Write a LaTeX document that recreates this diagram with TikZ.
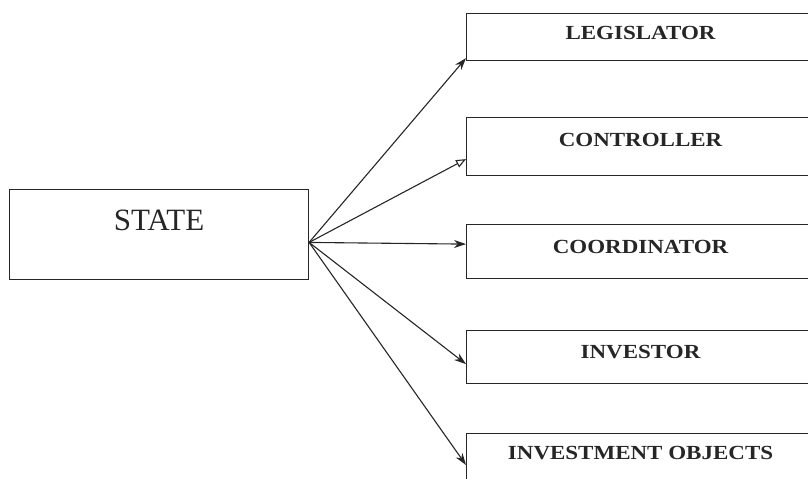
\documentclass[tikz,border=0pt]{standalone}
\usepackage{fontspec}
\setmainfont{Liberation Serif}
\newfontfamily\boxfont[FakeStretch=1.15]{Liberation Serif}
\usetikzlibrary{arrows.meta, positioning}

\begin{document}
\begin{tikzpicture}[x=0.5pt, y=-0.5pt, ->, >={Stealth[length=6pt, width=4pt]},
			line width=0.55pt, color=black!85,
			ruolo/.style={draw, anchor=north west, inner sep=0pt, minimum width=174pt,
				font=\boxfont\bfseries\fontsize{10}{12}\selectfont}]
			
			\useasboundingbox (0,0) rectangle (808,478);
			\clip (0,0) rectangle (808,478);
			
			% Nodo di partenza
			\node[draw, anchor=north west, inner sep=0pt, minimum width=149.5pt,
				text height=20.25pt, text depth=24.75pt,
				font=\fontsize{15.5}{18}\selectfont] (stato) at (9,189) {STATE};
			
			% --- Ruoli dello stato ---
			\node[ruolo, text height=13pt, text depth=10.5pt] (leg) at (466,13) {LEGISLATOR};
			\node[ruolo, text height=14.5pt, text depth=14.5pt] (con) at (466,117) {CONTROLLER};
			\node[ruolo, text height=14.5pt, text depth=12.5pt] (coo) at (466,224) {COORDINATOR};
			\node[ruolo, text height=14pt, text depth=12.5pt] (inv) at (466,330) {INVESTOR};
			\node[ruolo, text height=13pt, text depth=12.5pt] (obj) at (466,433) {INVESTMENT OBJECTS};
			
			% Frecce dallo stato
			\draw (stato.-3.4) -- ([yshift=1.5pt]leg.south west);
			\draw[-{Triangle[open, length=5pt, width=4pt]}] (stato.-3.4) -- ([yshift=8.5pt]con.south west);
			\draw (stato.-3.4) -- ([yshift=17.5pt]coo.south west);
			\draw (stato.-3.4) -- ([yshift=10pt]inv.south west);
			\draw (stato.-3.4) -- ([yshift=-16pt]obj.north west);
		\end{tikzpicture}
\end{document}
